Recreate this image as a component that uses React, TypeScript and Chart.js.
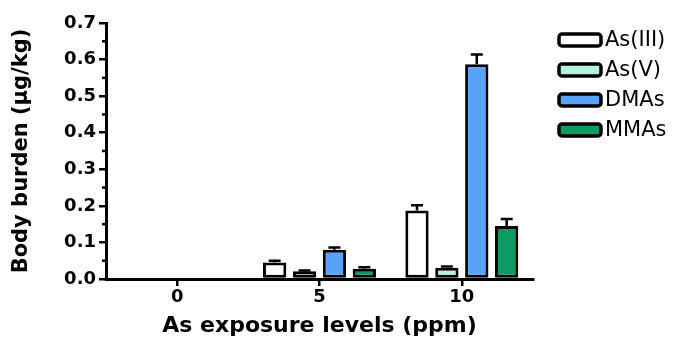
import React, { useEffect, useRef } from "react";
import { Chart, registerables } from "chart.js";

Chart.register(...registerables);

const categories = ["0", "5", "10"];
const seriesNames = ["As(III)", "As(V)", "DMAs", "MMAs"];
const asIII = [0, 0.045, 0.187];
const asV = [0, 0.021, 0.031];
const dmas = [0, 0.08, 0.587];
const mmas = [0, 0.028, 0.145];
const asIIIErr = [0, 0.005, 0.015];
const asVErr = [0, 0.002, 0.003];
const dmasErr = [0, 0.006, 0.027];
const mmasErr = [0, 0.004, 0.019];
const yTicks = [0, 0.1, 0.2, 0.3, 0.4, 0.5, 0.6, 0.7];
const yMinorTicks = [0.05, 0.15, 0.25, 0.35, 0.45, 0.55, 0.65];

const colors = ["#ffffff", "#b5f2de", "#5aa2f7", "#0e9a62"];
const FONT = "'DejaVu Sans', 'Liberation Sans', Arial, sans-serif";

const errorBarPlugin = {
  id: "errorBars",
  afterDatasetsDraw(chart: any) {
    const ctx = chart.ctx;
    const y = chart.scales.y;
    const errs = [asIIIErr, asVErr, dmasErr, mmasErr];
    ctx.save();
    ctx.strokeStyle = "#000";
    ctx.lineWidth = 2.5;
    chart.data.datasets.forEach((ds: any, di: number) => {
      const meta = chart.getDatasetMeta(di);
      meta.data.forEach((el: any, i: number) => {
        const v = ds.data[i];
        const e = errs[di][i];
        if (!v || !e) return;
        const top = y.getPixelForValue(v + e);
        const base = y.getPixelForValue(v);
        ctx.beginPath();
        ctx.moveTo(el.x, base);
        ctx.lineTo(el.x, top);
        ctx.moveTo(el.x - 6, top);
        ctx.lineTo(el.x + 6, top);
        ctx.stroke();
      });
    });
    ctx.restore();
  },
};

const minorTickPlugin = {
  id: "minorTicks",
  afterDraw(chart: any) {
    const ctx = chart.ctx;
    const y = chart.scales.y;
    const x0 = chart.chartArea.left;
    ctx.save();
    ctx.strokeStyle = "#000";
    ctx.lineWidth = 2.5;
    yMinorTicks.forEach((t) => {
      const py = y.getPixelForValue(t);
      ctx.beginPath();
      ctx.moveTo(x0 - 4, py);
      ctx.lineTo(x0, py);
      ctx.stroke();
    });
    ctx.restore();
  },
};

const legendPlugin = {
  id: "customLegend",
  afterDraw(chart: any) {
    const ctx = chart.ctx;
    const x0 = chart.chartArea.right + 26;
    const y0 = 40;
    const step = 30;
    ctx.save();
    chart.data.datasets.forEach((ds: any, i: number) => {
      const cy = y0 + i * step;
      ctx.beginPath();
      if (ctx.roundRect) ctx.roundRect(x0, cy - 6, 42, 12, 3);
      else ctx.rect(x0, cy - 6, 42, 12);
      ctx.fillStyle = ds.backgroundColor;
      ctx.fill();
      ctx.lineWidth = 3.5;
      ctx.strokeStyle = "#000";
      ctx.stroke();
      ctx.fillStyle = "#000";
      ctx.font = `21px ${FONT}`;
      ctx.textBaseline = "middle";
      ctx.textAlign = "left";
      ctx.fillText(ds.label, x0 + 46, cy + 1);
    });
    ctx.restore();
  },
};

export default function App() {
  const ref = useRef<HTMLCanvasElement>(null);
  useEffect(() => {
    document.body.style.margin = "0";
    const data = [asIII, asV, dmas, mmas];
    const chart = new Chart(ref.current!, {
      type: "bar",
      data: {
        labels: categories,
        datasets: seriesNames.map((n, i) => ({
          label: n,
          data: data[i],
          backgroundColor: colors[i],
          borderColor: "#000",
          borderWidth: 3,
          borderSkipped: false,
          categoryPercentage: 0.84,
          barPercentage: 0.78,
        })),
      },
      options: {
        animation: false,
        responsive: false,
        maintainAspectRatio: false,
        layout: { padding: { top: 23, left: 0, right: 141, bottom: 0 } },
        plugins: {
          tooltip: { enabled: false },
          legend: { display: false },
        },
        scales: {
          x: {
            afterFit(scale: any) {
              scale.height = 64;
            },
            grid: {
              display: true,
              drawOnChartArea: false,
              tickLength: 7,
              tickColor: "#000",
              lineWidth: 2.5,
              offset: false,
            },
            border: { color: "#000", width: 3 },
            ticks: {
              color: "#000",
              font: { family: FONT, size: 18, weight: "bold" },
              padding: 1,
            },
            title: {
              display: true,
              text: "As exposure levels (ppm)",
              color: "#000",
              font: { family: FONT, size: 22, weight: "bold" },
              padding: { top: 0, bottom: 4 },
            },
          },
          y: {
            min: 0,
            max: 0.7,
            afterFit(scale: any) {
              scale.width = 106;
            },
            afterBuildTicks(scale: any) {
              scale.ticks = yTicks.map((v) => ({ value: v }));
            },
            grid: {
              display: true,
              drawOnChartArea: false,
              tickLength: 7,
              tickColor: "#000",
              lineWidth: 2.5,
            },
            border: { color: "#000", width: 3 },
            ticks: {
              color: "#000",
              font: { family: FONT, size: 18, weight: "bold" },
              padding: 3,
              callback: (v: any) => Number(v).toFixed(1),
            },
            title: {
              display: true,
              text: "Body burden (µg/kg)",
              color: "#000",
              font: { family: FONT, size: 21, weight: "bold" },
              padding: { top: 9, bottom: 0 },
            },
          },
        },
      },
      plugins: [errorBarPlugin, minorTickPlugin, legendPlugin],
    });
    return () => chart.destroy();
  }, []);
  return (
    <div style={{ width: 674, height: 343 }}>
      <canvas ref={ref} width={674} height={343} />
    </div>
  );
}
